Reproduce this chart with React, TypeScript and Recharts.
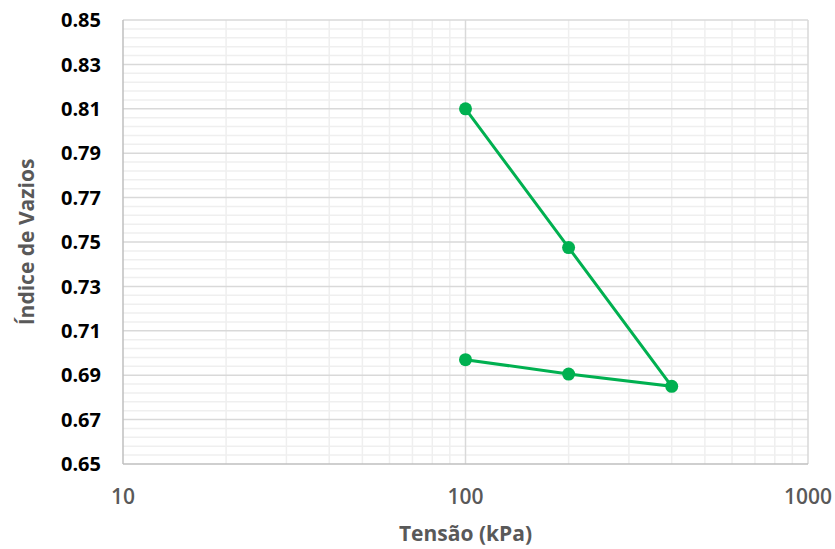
import { LineChart, Line, XAxis, YAxis, ReferenceLine } from 'recharts'

// ensaio de adensamento: carregamento 100 -> 400 kPa e descarregamento
const tensao = [100, 200, 400, 200, 100]
const indiceVazios = [0.81, 0.7475, 0.685, 0.6905, 0.697]

const xTicks = [10, 100, 1000]
const yTicks = [0.65, 0.67, 0.69, 0.71, 0.73, 0.75, 0.77, 0.79, 0.81, 0.83, 0.85]
const xMinor = [20, 30, 40, 50, 60, 70, 80, 90, 200, 300, 400, 500, 600, 700, 800, 900]
const yMinor = [
  0.654, 0.658, 0.662, 0.666, 0.674, 0.678, 0.682, 0.686, 0.694, 0.698, 0.702, 0.706,
  0.714, 0.718, 0.722, 0.726, 0.734, 0.738, 0.742, 0.746, 0.754, 0.758, 0.762, 0.766,
  0.774, 0.778, 0.782, 0.786, 0.794, 0.798, 0.802, 0.806, 0.814, 0.818, 0.822, 0.826,
  0.834, 0.838, 0.842, 0.846,
]

const data = tensao.map((t, i) => ({ tensao: t, e: indiceVazios[i] }))

const green = '#00B050'
const font = '"Open Sans", sans-serif'

export default function App() {
  return (
    <div style={{ position: 'absolute', left: 0, top: 0, width: 835, height: 549, background: '#fff' }}>
      <LineChart width={835} height={549} data={data} margin={{ top: 20, right: 27, left: 0, bottom: 0 }}>
        <XAxis
          dataKey="tensao"
          type="number"
          scale="log"
          domain={[10, 1000]}
          ticks={xTicks}
          allowDataOverflow
          height={85}
          stroke="#BFBFBF"
          strokeWidth={1.5}
          tickLine={false}
          tickSize={0}
          tickMargin={25}
          tick={{ fill: '#595959', fontSize: 21, fontWeight: 600, fontFamily: font }}
          label={{ value: 'Tensão (kPa)', position: 'insideBottom', offset: 8, fill: '#595959', fontSize: 21, fontWeight: 700, fontFamily: font }}
        />
        <YAxis
          dataKey="e"
          type="number"
          domain={[0.65, 0.85]}
          ticks={yTicks}
          width={123}
          stroke="#BFBFBF"
          strokeWidth={1.5}
          tickLine={false}
          tickSize={0}
          tickMargin={22}
          tickFormatter={(v: number) => v.toFixed(2)}
          tick={{ fill: '#000', fontSize: 20, fontWeight: 700, fontFamily: font }}
          label={{ value: 'Índice de Vazios', angle: -90, position: 'insideLeft', offset: 27, style: { textAnchor: 'middle' }, fill: '#595959', fontSize: 21, fontWeight: 700, fontFamily: font }}
        />
        {xMinor.map((v) => (
          <ReferenceLine key={'xm' + v} x={v} stroke="#EFEFEF" strokeWidth={1.5} />
        ))}
        {yMinor.map((v) => (
          <ReferenceLine key={'ym' + v} y={v} stroke="#EFEFEF" strokeWidth={1.5} />
        ))}
        {yTicks.slice(1).map((v) => (
          <ReferenceLine key={'yM' + v} y={v} stroke="#D9D9D9" strokeWidth={1.5} />
        ))}
        {xTicks.slice(1).map((v) => (
          <ReferenceLine key={'xM' + v} x={v} stroke="#D9D9D9" strokeWidth={1.5} />
        ))}
        <Line
          dataKey="e"
          stroke={green}
          strokeWidth={3}
          dot={{ r: 6.5, fill: green, stroke: green, strokeWidth: 0 }}
          isAnimationActive={false}
        />
      </LineChart>
    </div>
  )
}
